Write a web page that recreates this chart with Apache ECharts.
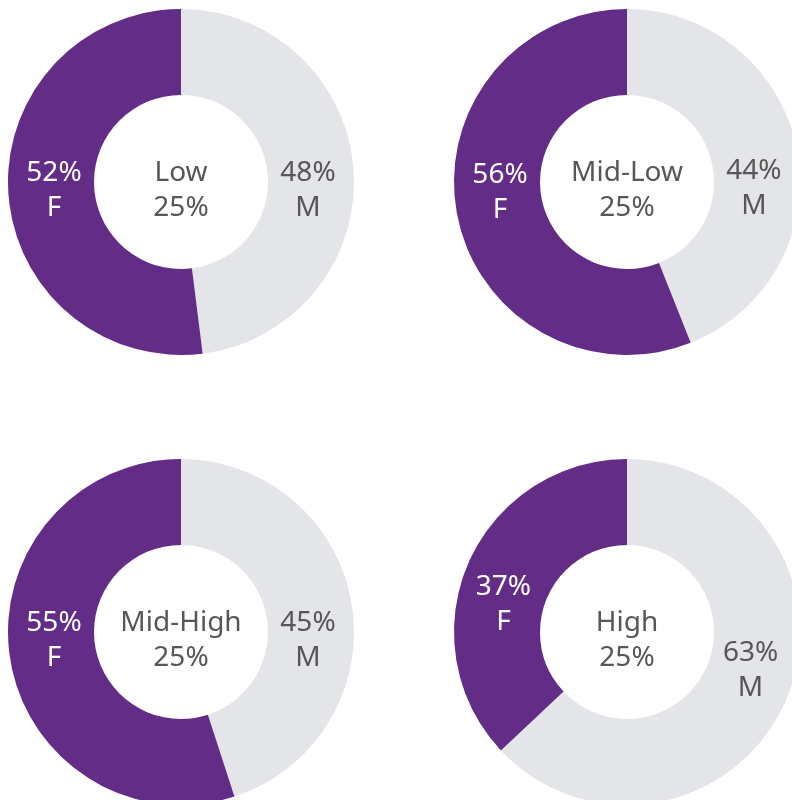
<!DOCTYPE html>
<html>
<head>
<meta charset="utf-8">
<script src="https://cdn.jsdelivr.net/npm/echarts@6/dist/echarts.min.js"></script>
<style>html,body{margin:0;padding:0;background:#fff}#c{width:792px;height:800px}</style>
</head>
<body>
<div id="c"></div>
<script>
const categories = ['Low', 'Mid-Low', 'Mid-High', 'High'];
const groupShare = [25, 25, 25, 25];
const femaleValues = [52, 56, 55, 37];
const maleValues = [48, 44, 45, 63];
const sexLabels = ['M', 'F'];

const COL_X = [181, 627];
const ROW_Y = [182, 632];
const FONT = 'Noto Sans';
const TEXT_GRAY = '#575757';
const FS = 28;
const LH = 35;

const chart = echarts.init(document.getElementById('c'), null, {renderer: 'canvas'});

function centerOf(i) { return [COL_X[i % 2], ROW_Y[Math.floor(i / 2)]]; }

const series = categories.map(function (cat, i) {
  const c = centerOf(i);
  return {
    type: 'pie',
    center: c,
    radius: [87, 173],
    startAngle: 90,
    clockwise: true,
    avoidLabelOverlap: false,
    silent: true,
    emphasis: {disabled: true},
    label: {
      show: true,
      position: 'inside',
      fontFamily: FONT,
      fontSize: FS,
      lineHeight: LH,
      align: 'center'
    },
    labelLine: {show: false},
    labelLayout: function (p) {
      const r = p.labelRect;
      const lx = r.x + r.width / 2, ly = r.y + r.height / 2;
      const dx = lx - c[0], dy = ly - c[1];
      const a = Math.atan2(dy, Math.abs(dx));
      const na = Math.sign(a) * Math.max(0, Math.abs(a) - 10 * Math.PI / 180);
      const rad = 127;
      const tx = c[0] + Math.sign(dx) * rad * Math.cos(na);
      const ty = c[1] + rad * Math.sin(na) * (a < 0 ? 1.25 : 1) + 9;
      return {dx: tx - lx, dy: ty - ly};
    },
    data: [
      {value: maleValues[i], name: sexLabels[0], itemStyle: {color: '#e4e5e8'},
       label: {color: TEXT_GRAY, formatter: function (d) { return d.value + '%\n' + d.name; }}},
      {value: femaleValues[i], name: sexLabels[1], itemStyle: {color: '#632c87'},
       label: {color: '#ffffff', formatter: function (d) { return d.value + '%\n' + d.name; }}}
    ]
  };
});

const graphics = categories.map(function (cat, i) {
  const c = centerOf(i);
  return {
    type: 'text',
    x: c[0],
    y: c[1] + 9,
    silent: true,
    style: {
      text: cat + '\n' + groupShare[i] + '%',
      fill: TEXT_GRAY,
      fontFamily: FONT,
      fontSize: FS,
      lineHeight: LH,
      align: 'center',
      verticalAlign: 'middle'
    }
  };
});

chart.setOption({
  animation: false,
  backgroundColor: '#ffffff',
  series: series,
  graphic: graphics
});
</script>
</body>
</html>
